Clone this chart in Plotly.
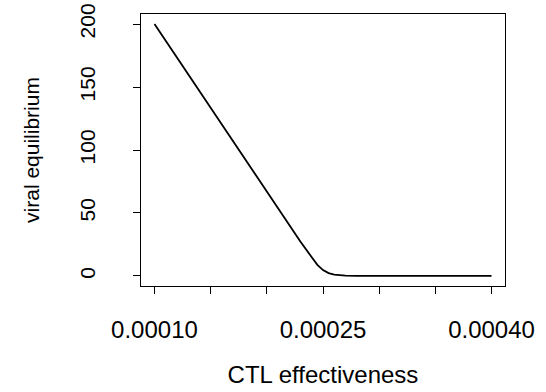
import plotly.graph_objects as go

# CTL effectiveness (x) and viral equilibrium (y)
ctl_effectiveness = [0.00010, 0.00012, 0.00014, 0.00016, 0.00018, 0.00020,
                     0.00022, 0.00023, 0.00024, 0.000245, 0.00025, 0.000255,
                     0.00026, 0.000265, 0.00027, 0.00028, 0.00030, 0.00035, 0.00040]
viral_equilibrium = [200, 173.3, 146.7, 120, 93.3, 66.7,
                     40.2, 27.2, 14.8, 8.8, 4.6, 2.2,
                     1.0, 0.45, 0.2, 0.05, 0, 0, 0]

x_tick_vals = [0.00010, 0.00015, 0.00020, 0.00025, 0.00030, 0.00035, 0.00040]
x_tick_text = ["0.00010", "", "", "0.00025", "", "", "0.00040"]
y_tick_vals = [0, 50, 100, 150, 200]
y_tick_text = ["0", "50", "100", "150", "200"]

FONT = "Liberation Sans, Arial, Helvetica, sans-serif"

fig = go.Figure()
fig.add_trace(go.Scatter(x=ctl_effectiveness, y=viral_equilibrium, mode="lines",
                         line=dict(color="black", width=1.8), showlegend=False))

fig.update_layout(
    width=546, height=392,
    margin=dict(l=140.5, r=40.5, t=14.3, b=106, pad=0),
    paper_bgcolor="white", plot_bgcolor="white",
    font=dict(family=FONT, color="black"),
)
fig.update_xaxes(
    range=[0.000088, 0.000412], tickvals=x_tick_vals, ticktext=x_tick_text,
    ticks="outside", ticklen=7, tickcolor="black", tickwidth=1,
    showline=True, linecolor="black", linewidth=1, mirror=True,
    showgrid=False, zeroline=False, automargin=False,
    tickfont=dict(size=24, family=FONT), ticklabelstandoff=15,
    title=dict(text="CTL effectiveness", font=dict(size=24, family=FONT), standoff=24),
)
fig.update_yaxes(
    range=[-8, 208], tickvals=y_tick_vals, ticktext=y_tick_text, tickangle=-90,
    ticks="outside", ticklen=7, tickcolor="black", tickwidth=1,
    showline=True, linecolor="black", linewidth=1, mirror=True,
    showgrid=False, zeroline=False, automargin=False,
    tickfont=dict(size=21, family=FONT), ticklabelstandoff=30,
    title=dict(text="viral equilibrium", font=dict(size=21, family=FONT), standoff=30),
)

fig.write_html("out.html")
